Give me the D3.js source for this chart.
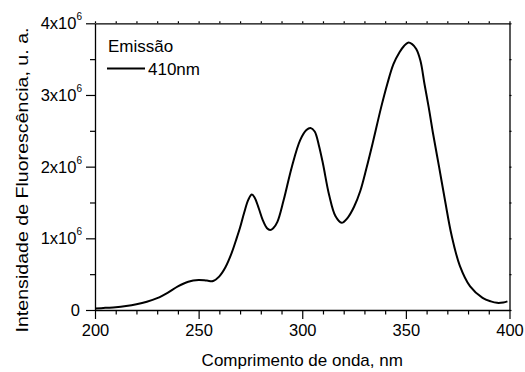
<!DOCTYPE html>
<html>
<head>
<meta charset="utf-8">
<script src="https://cdn.jsdelivr.net/npm/d3@7"></script>
<style>
body { margin: 0; background: #fff; }
text { font-family: "Liberation Sans", Arial, sans-serif; fill: #000; }
.domain { stroke: #000; stroke-width: 1.3; }
.tick line { stroke: #000; stroke-width: 1.2; }
</style>
</head>
<body>
<script>
// emission spectrum (intensity in units of 1e6)
const wavelength = [200, 205, 210, 215, 220, 225, 230, 235, 240, 245, 250, 254, 257, 260, 263, 266, 268, 270, 272, 274, 275.7, 277, 279, 281, 283, 284.5, 286, 288, 291, 295, 299, 302, 304, 306, 308, 310, 313, 316, 319, 322, 325, 328, 331, 334, 338, 341, 344, 347, 349, 351, 353, 355, 357, 359, 361, 363, 366, 369, 372, 376, 381, 387, 391, 394, 397, 399];
const intensity = [0.02, 0.03, 0.038, 0.055, 0.08, 0.115, 0.165, 0.24, 0.33, 0.395, 0.418, 0.41, 0.405, 0.47, 0.6, 0.8, 0.97, 1.15, 1.36, 1.54, 1.61, 1.57, 1.42, 1.25, 1.14, 1.115, 1.14, 1.23, 1.53, 2.0, 2.37, 2.51, 2.54, 2.49, 2.3, 2.04, 1.6, 1.31, 1.217, 1.29, 1.44, 1.66, 1.98, 2.33, 2.82, 3.15, 3.43, 3.6, 3.68, 3.73, 3.71, 3.64, 3.48, 3.15, 2.83, 2.48, 2.0, 1.51, 1.05, 0.62, 0.33, 0.17, 0.12, 0.10, 0.105, 0.12];

const xTicks = [200, 250, 300, 350, 400];
const xMinor = [210, 220, 230, 240, 260, 270, 280, 290, 310, 320, 330, 340, 360, 370, 380, 390];
const yTicks = [0, 1, 2, 3, 4];
const yMinor = [0.5, 1.5, 2.5, 3.5];
const exponent = "6";
const seriesName = "Emissão";
const lineName = "410nm";

const w = 525;
const h = 372;
const padLeft = 95, padRight = 509.5, padTop = 23.3, padBottom = 310;

var svg = d3.select("body")
            .append("svg")
            .attr("width", w)
            .attr("height", h);

const xScale = d3.scaleLinear()
                 .domain([200, 400])
                 .range([padLeft, padRight]);

const yScale = d3.scaleLinear()
                 .domain([0, 4])
                 .range([padBottom, padTop]);

const data = wavelength.map((d, i) => ({x: d, y: intensity[i]}));

// bottom axis: minor ticks first, then the labelled ones
svg.append("g")
   .attr("transform", "translate(0," + padBottom + ")")
   .call(d3.axisBottom(xScale).tickValues(xMinor).tickSize(4.5).tickFormat(""))
   .select(".domain").remove();

svg.append("g")
   .attr("transform", "translate(0," + padBottom + ")")
   .call(d3.axisBottom(xScale).tickValues(xTicks).tickSize(9).tickSizeOuter(0).tickPadding(5))
   .selectAll(".tick text")
   .attr("font-size", 16.5);

svg.append("g")
   .attr("transform", "translate(" + padLeft + ",0)")
   .call(d3.axisLeft(yScale).tickValues(yMinor).tickSize(5).tickFormat(""))
   .select(".domain").remove();

var yAxisG = svg.append("g")
   .attr("transform", "translate(" + padLeft + ",0)")
   .call(d3.axisLeft(yScale).tickValues(yTicks).tickSize(9).tickSizeOuter(0).tickPadding(5).tickFormat(""));

yAxisG.selectAll(".tick text")
      .attr("font-size", 16.5)
      .attr("dy", "0.33em")
      .each(function(d) {
        var t = d3.select(this);
        if (d === 0) {
          t.attr("x", -15).text("0");
          return;
        }
        t.attr("x", -13).text(d + "x10");
        t.append("tspan")
         .attr("font-size", 10)
         .attr("dy", "-0.9em")
         .text(exponent);
      });

// mirror axes on top and right, tiny ticks
svg.append("g")
   .attr("transform", "translate(0," + padTop + ")")
   .call(d3.axisTop(xScale).tickValues(xTicks.concat(xMinor)).tickSize(2).tickSizeOuter(0).tickFormat(""))
   .selectAll(".tick line").attr("stroke", "#999");

svg.append("g")
   .attr("transform", "translate(" + padRight + ",0)")
   .call(d3.axisRight(yScale).tickValues(yTicks.concat(yMinor)).tickSize(2).tickSizeOuter(0).tickFormat(""))
   .selectAll(".tick line").attr("stroke", "#999");

const line = d3.line()
               .x(d => xScale(d.x))
               .y(d => yScale(d.y))
               .curve(d3.curveCatmullRom.alpha(0.5));

svg.append("path")
   .datum(data)
   .attr("d", line)
   .attr("fill", "none")
   .attr("stroke", "#000")
   .attr("stroke-width", 2);

// legend
svg.append("text")
   .text(seriesName)
   .attr("x", 108)
   .attr("y", 52)
   .attr("font-size", 17);

svg.append("line")
   .attr("x1", 107)
   .attr("x2", 145)
   .attr("y1", 68.5)
   .attr("y2", 68.5)
   .attr("stroke", "#000")
   .attr("stroke-width", 2);

svg.append("text")
   .text(lineName)
   .attr("x", 148)
   .attr("y", 75)
   .attr("font-size", 17);

// axis titles
svg.append("text")
   .text("Comprimento de onda, nm")
   .attr("x", (padLeft + padRight) / 2)
   .attr("y", 366)
   .attr("text-anchor", "middle")
   .attr("font-size", 17);

svg.append("text")
   .text("Intensidade de Fluorescência, u. a.")
   .attr("transform", "translate(28,180) rotate(-90)")
   .attr("text-anchor", "middle")
   .attr("font-size", 17)
   .attr("textLength", 305)
   .attr("lengthAdjust", "spacingAndGlyphs");
</script>
</body>
</html>
